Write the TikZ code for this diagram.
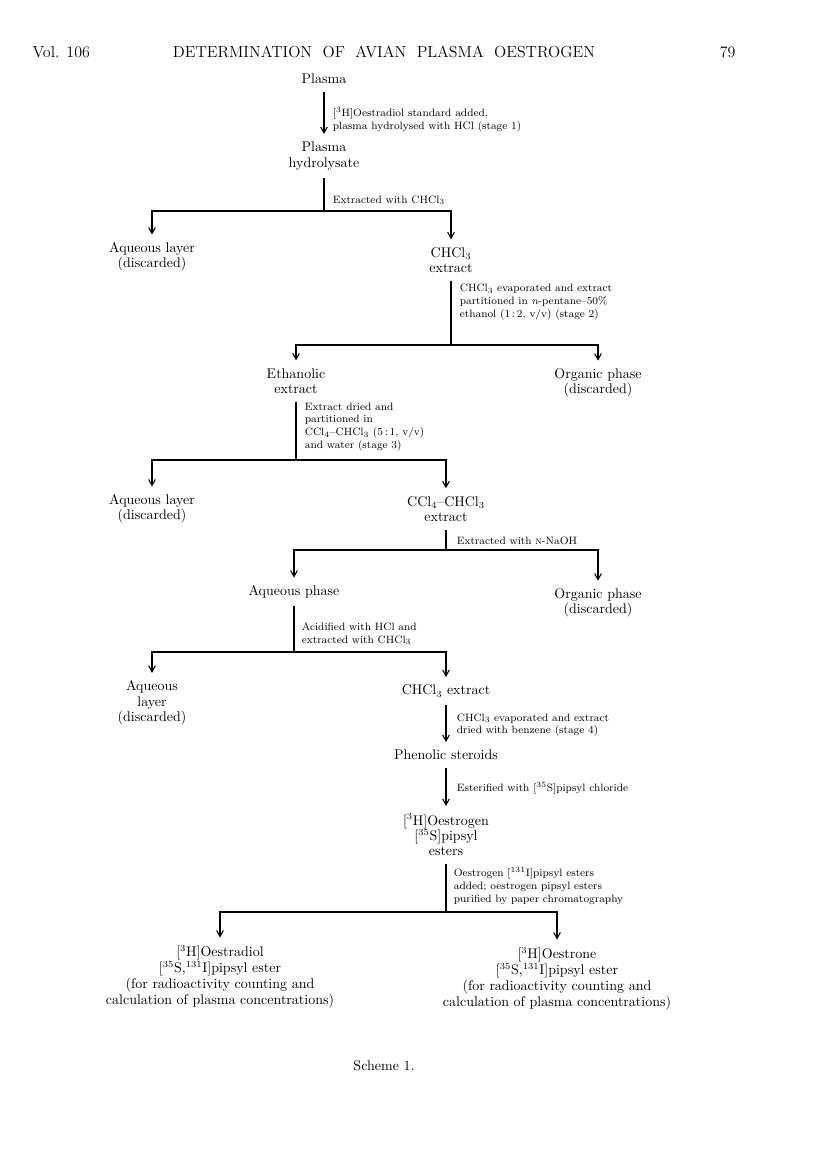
\documentclass[tikz,border=0pt]{standalone}
\usetikzlibrary{arrows.meta}

\begin{document}
\begin{tikzpicture}[x=0.75pt,y=-0.75pt,line width=0.8pt,
    box/.style={align=center,font=\fontsize{10.5}{11.5}\selectfont,inner sep=1pt,outer sep=5pt},
    endbox/.style={box,font=\fontsize{10.5}{12}\selectfont},
    note/.style={anchor=west,align=left,font=\fontsize{8}{9.6}\selectfont,inner sep=1pt},
    head/.style={font=\fontsize{12}{14}\selectfont,inner sep=0pt},
    arr/.style={-{Straight Barb[length=4.5pt,width=5pt]}}]
    \useasboundingbox (0,0) rectangle (816,1155);

    \node[head,anchor=base west] (vol) at (32,58) {Vol. 106};
    \node[head,anchor=base] (title) at (384,58) {DETERMINATION\ \ OF\ \ AVIAN\ \ PLASMA\ \ OESTROGEN};
    \node[head,anchor=base east] (page) at (736,58) {79};

    \node[box] (plasma) at (324,79) {Plasma};
    \node[box] (hydro) at (324,156) {Plasma\\hydrolysate};
    \coordinate (j1) at (324,211);
    \node[box] (aq1) at (152,257) {Aqueous layer\\(discarded)};
    \node[box] (chcl1) at (451,260) {CHCl$_3$\\extract};
    \coordinate (j2) at (451,345);
    \node[box] (ethan) at (296,381) {Ethanolic\\extract};
    \node[box] (org1) at (598,383) {Organic phase\\(discarded)};
    \coordinate (j3) at (296,460);
    \node[box] (aq2) at (152,509) {Aqueous layer\\(discarded)};
    \node[box] (ccl) at (446,509) {CCl$_4$--CHCl$_3$\\extract};
    \coordinate (j4) at (446,550);
    \node[box] (aqph) at (294,592) {Aqueous phase};
    \node[box] (org2) at (598,603) {Organic phase\\(discarded)};
    \coordinate (j5) at (294,652);
    \node[box] (aq3) at (152,703) {Aqueous\\layer\\(discarded)};
    \node[box] (chcl2) at (446,691) {CHCl$_3$ extract};
    \node[box] (phen) at (446,755) {Phenolic steroids};
    \node[box] (ester) at (446,835) {[$^3$H]Oestrogen\\{}[$^{35}$S]pipsyl\\esters};
    \coordinate (j6) at (446,912);
    \node[endbox] (diol) at (220,977) {[$^3$H]Oestradiol\\{}[$^{35}$S,$^{131}$I]pipsyl ester\\(for radioactivity counting and\\calculation of plasma concentrations)};
    \node[endbox] (one) at (557,979) {[$^3$H]Oestrone\\{}[$^{35}$S,$^{131}$I]pipsyl ester\\(for radioactivity counting and\\calculation of plasma concentrations)};
    \node[box] (scheme) at (384,1066) {Scheme 1.};

    \node[note] (n1) at (331,120) {[$^3$H]Oestradiol standard added,\\plasma hydrolysed with HCl (stage 1)};
    \node[note] (n2) at (331,200) {Extracted with CHCl$_3$};
    \node[note] (n3) at (458,302) {CHCl$_3$ evaporated and extract\\partitioned in \textit{n}-pentane--50\%\\ethanol (1\,:\,2, v/v) (stage 2)};
    \node[note] (n4) at (303,427) {Extract dried and\\partitioned in\\CCl$_4$--CHCl$_3$ (5\,:\,1, v/v)\\and water (stage 3)};
    \node[note] (n5) at (455,541) {Extracted with \textsc{n}-NaOH};
    \node[note] (n6) at (300,634) {Acidified with HCl and\\extracted with CHCl$_3$};
    \node[note] (n7) at (455,725) {CHCl$_3$ evaporated and extract\\dried with benzene (stage 4)};
    \node[note] (n8) at (455,788) {Esterified with [$^{35}$S]pipsyl chloride};
    \node[note] (n9) at (452,886) {Oestrogen [$^{131}$I]pipsyl esters\\added; oestrogen pipsyl esters\\purified by paper chromatography};

    \draw[arr] (plasma) -- (hydro);
    \draw (hydro) -- (j1);
    \draw[arr] (j1) -| (aq1);
    \draw[arr] (j1) -| (chcl1);
    \draw (chcl1) -- (j2);
    \draw[arr] (j2) -| (ethan);
    \draw[arr] (j2) -| (org1);
    \draw (ethan) -- (j3);
    \draw[arr] (j3) -| (aq2);
    \draw[arr] (j3) -| (ccl);
    \draw (ccl) -- (j4);
    \draw[arr] (j4) -| (aqph);
    \draw[arr] (j4) -| (org2);
    \draw (aqph) -- (j5);
    \draw[arr] (j5) -| (aq3);
    \draw[arr] (j5) -| (chcl2);
    \draw[arr] (chcl2) -- (phen);
    \draw[arr] (phen) -- (ester);
    \draw (ester) -- (j6);
    \draw[arr] (j6) -| (diol);
    \draw[arr] (j6) -| (one);
\end{tikzpicture}
\end{document}
